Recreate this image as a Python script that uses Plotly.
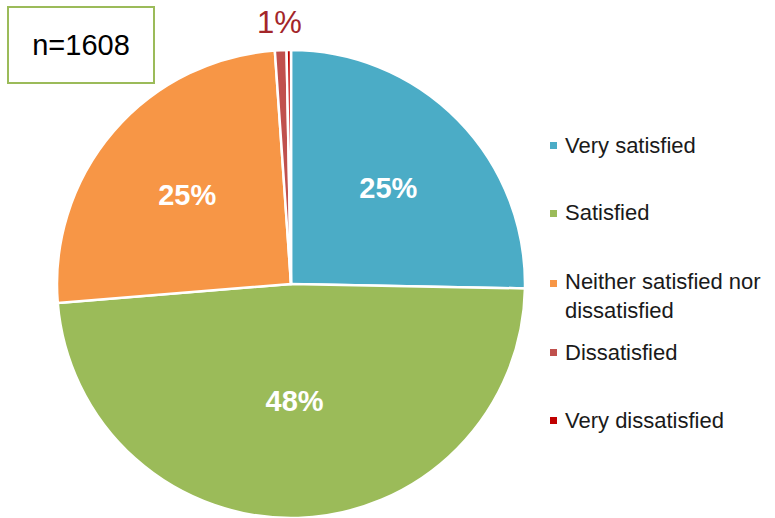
import math
import plotly.graph_objects as go

# Survey responses (share of respondents, %)
labels = ["Very satisfied", "Satisfied", "Neither satisfied nor dissatisfied",
          "Dissatisfied", "Very dissatisfied"]
legend_text = ["Very satisfied", "Satisfied", "Neither satisfied nor<br>dissatisfied",
               "Dissatisfied", "Very dissatisfied"]
values = [25.3, 48.4, 25.2, 0.8, 0.3]
colors = ["#4BACC6", "#9BBB59", "#F79646", "#C0504D", "#C00000"]
sample_note = "n=1608"

W, H = 775, 518
FONT = "Liberation Sans, Arial, sans-serif"

# pie geometry in pixels
CX, CY, R = 291, 284, 234

fig = go.Figure()
fig.add_trace(go.Pie(
    labels=labels,
    values=values,
    sort=False,
    direction="clockwise",
    rotation=0,
    marker=dict(colors=colors, line=dict(color="white", width=2.5)),
    texttemplate=["<b>%{percent:.0%}</b>"] * 3 + ["", ""],
    textposition=["inside", "inside", "inside", "none", "none"],
    insidetextorientation="horizontal",
    textfont=dict(family=FONT, size=29, color="white"),
    domain=dict(x=[(CX - R) / W, (CX + R) / W], y=[0, 2 * R / H]),
    showlegend=False,
    hoverinfo="label+percent",
))

annotations = []

# outside label for the "Dissatisfied" slice, placed beyond the rim at its mid-angle
total = sum(values)
start = sum(values[:3])
mid_frac = (start + values[3] / 2) / total
theta = 2 * math.pi * mid_frac
lab_r = R + 28
annotations.append(dict(
    text=f"{values[3] / total:.0%}", xref="paper", yref="paper",
    x=(CX + lab_r * math.sin(theta)) / W, y=1 - (CY - lab_r * math.cos(theta)) / H,
    xanchor="center", yanchor="middle", showarrow=False,
    font=dict(family=FONT, size=31, color="#A3262A")))

# Legend drawn as coloured squares with labels
legend_y = [145, 213, 296, 352, 420]
shapes = []
for txt, col, yc in zip(legend_text, colors, legend_y):
    first_line_y = yc - 13 if "<br>" in txt else yc
    shapes.append(dict(type="rect", xref="paper", yref="paper",
                       x0=550 / W, x1=557 / W,
                       y0=1 - (first_line_y + 4) / H, y1=1 - (first_line_y - 3) / H,
                       fillcolor=col, line=dict(width=0)))
    annotations.append(dict(text=txt, xref="paper", yref="paper",
                            x=563 / W, y=1 - yc / H, xanchor="left", yanchor="middle",
                            align="left", showarrow=False,
                            font=dict(family=FONT, size=22, color="#1a1a1a")))

# Sample size box
annotations.append(dict(text=sample_note, xref="paper", yref="paper",
                        x=81 / W, y=1 - 45 / H, xanchor="center", yanchor="middle",
                        showarrow=False, bordercolor="#9BBB59", borderwidth=2,
                        borderpad=21, width=102,
                        font=dict(family=FONT, size=29, color="black")))

fig.update_layout(
    width=W, height=H,
    margin=dict(l=0, r=0, t=0, b=0),
    paper_bgcolor="white",
    plot_bgcolor="white",
    shapes=shapes,
    annotations=annotations,
)

fig.write_html("out.html")
